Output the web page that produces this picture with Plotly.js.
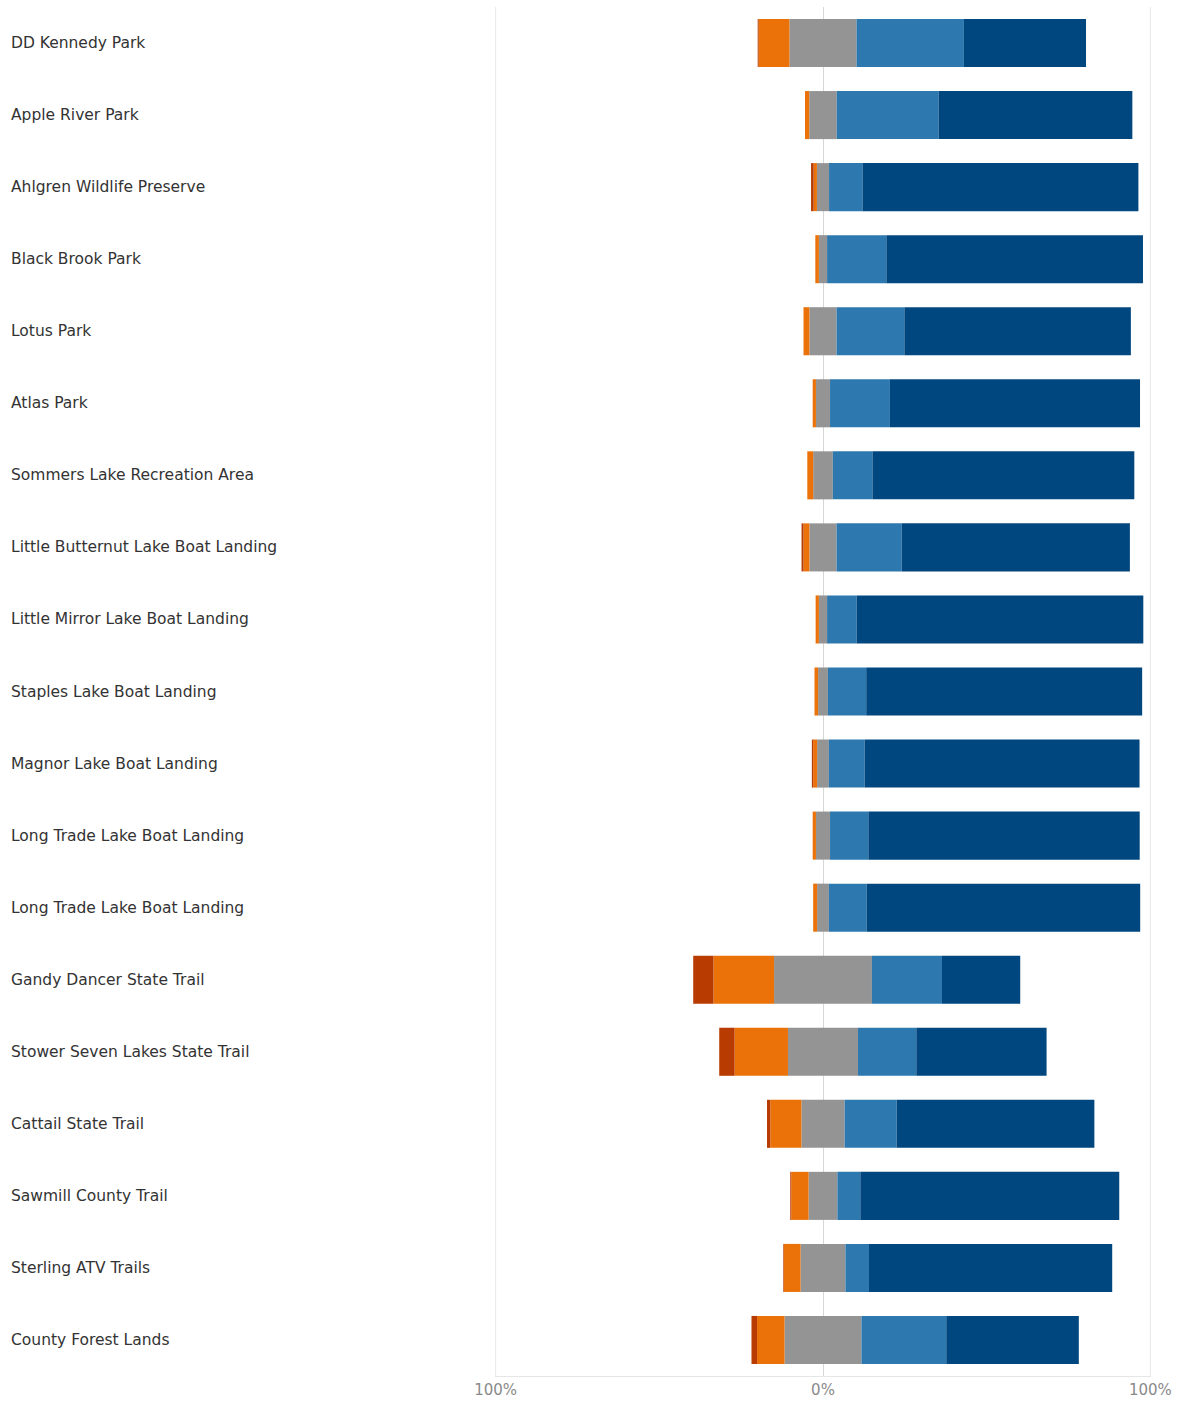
<!DOCTYPE html>
<html>
<head>
<meta charset="utf-8">
<script src="https://cdn.plot.ly/plotly-3.0.1.min.js"></script>
<style>
  html, body { margin: 0; padding: 0; background: #ffffff; }
  #chart { width: 1181px; height: 1402px; }
</style>
</head>
<body>
<div id="chart"></div>
<script>
// Categories, top to bottom
const categories = [
  "DD Kennedy Park",
  "Apple River Park",
  "Ahlgren Wildlife Preserve",
  "Black Brook Park",
  "Lotus Park",
  "Atlas Park",
  "Sommers Lake Recreation Area",
  "Little Butternut Lake Boat Landing",
  "Little Mirror Lake Boat Landing",
  "Staples Lake Boat Landing",
  "Magnor Lake Boat Landing",
  "Long Trade Lake Boat Landing",
  "Long Trade Lake Boat Landing",
  "Gandy Dancer State Trail",
  "Stower Seven Lakes State Trail",
  "Cattail State Trail",
  "Sawmill County Trail",
  "Sterling ATV Trails",
  "County Forest Lands"
];

// Shares of responses (percent) per category
const veryNegative = [0.3, 0.0, 0.8, 0.0, 0.0, 0.0, 0.0, 0.6, 0.0, 0.0, 0.4, 0.0, 0.0, 6.2, 4.7, 1.0, 0.3, 0.2, 1.7];
const negative     = [9.4, 1.3, 1.0, 1.1, 1.8, 1.0, 1.8, 1.8, 1.0, 1.1, 1.2, 1.0, 1.2, 18.5, 16.3, 9.5, 5.3, 5.1, 8.4];
const neutral      = [20.5, 8.4, 3.7, 2.5, 8.3, 4.3, 6.0, 8.3, 2.5, 3.0, 3.6, 4.3, 3.6, 29.9, 21.4, 13.2, 8.8, 13.7, 23.5];
const positive     = [32.8, 31.1, 10.2, 18.1, 20.7, 18.3, 12.1, 19.9, 9.0, 11.7, 10.9, 11.7, 11.5, 21.4, 17.8, 15.9, 7.0, 7.2, 25.9];
const veryPositive = [37.3, 59.2, 84.3, 78.4, 69.2, 76.4, 80.0, 69.7, 87.6, 84.3, 84.0, 82.9, 83.6, 23.9, 39.8, 60.4, 79.1, 74.3, 40.5];

// X tick labels
const xTickVals = [-100, 0, 100];
const xTickText = ["100%", "0%", "100%"];

const idx = categories.map((_, i) => i);
const barWidth = 0.667;

function hbar(name, xs, color) {
  return {
    type: "bar",
    orientation: "h",
    name: name,
    y: idx,
    x: xs,
    width: barWidth,
    marker: { color: color, line: { width: 0 } },
    hoverinfo: "skip"
  };
}

const traces = [
  hbar("Neutral (left half)", neutral.map(v => -v / 2), "#949494"),
  hbar("Negative", negative.map(v => -v), "#EA7209"),
  hbar("Very negative", veryNegative.map(v => -v), "#B83C02"),
  hbar("Neutral (right half)", neutral.map(v => v / 2), "#949494"),
  hbar("Positive", positive, "#2D78AE"),
  hbar("Very positive", veryPositive, "#01477F")
];

const annotations = categories.map((c, i) => ({
  xref: "paper",
  yref: "y",
  x: 0,
  y: i,
  xanchor: "left",
  yanchor: "middle",
  xshift: -486,
  text: c,
  showarrow: false,
  font: { family: "DejaVu Sans, sans-serif", size: 15.5, color: "#333333" }
}));

// Grid lines at the outer ticks, drawn as shapes beneath the bars
const gridShapes = xTickVals.filter(v => v !== 0).map(v => ({
  type: "line",
  xref: "x",
  yref: "paper",
  x0: v, x1: v,
  y0: 0, y1: 1,
  layer: "below",
  line: { color: "#e8e8e8", width: 1 }
}));

const layout = {
  width: 1181,
  height: 1402,
  margin: { l: 495, r: 30, t: 7, b: 26, pad: 0 },
  paper_bgcolor: "#ffffff",
  plot_bgcolor: "#ffffff",
  barmode: "relative",
  showlegend: false,
  xaxis: {
    range: [-100.2, 100.2],
    tickvals: xTickVals,
    ticktext: xTickText,
    showgrid: false,
    zeroline: true,
    zerolinecolor: "#d6d6d6",
    zerolinewidth: 1,
    showline: true,
    linecolor: "#e6e6e6",
    linewidth: 1,
    ticks: "",
    tickfont: { family: "DejaVu Sans, sans-serif", size: 15, color: "#8a8a8a" },
    layer: "above traces",
    fixedrange: true
  },
  yaxis: {
    range: [18.5, -0.5],
    showticklabels: false,
    showgrid: false,
    zeroline: false,
    showline: false,
    ticks: "",
    fixedrange: true
  },
  shapes: gridShapes,
  annotations: annotations
};

Plotly.newPlot("chart", traces, layout, { displayModeBar: false, staticPlot: true });
</script>
</body>
</html>
